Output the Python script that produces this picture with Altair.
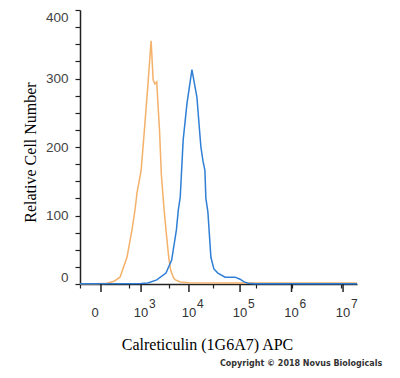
import altair as alt
import pandas as pd

# ---- data ----
orange_x = [-311, -47, 62, 158, 268, 439, 600, 714, 800, 1000, 1194, 1425, 1679, 1858, 2031,
            2220, 2320, 2535, 2770, 3162, 3453, 3945, 4313, 4924, 5380, 6715, 10000, 100000,
            1000000, 10000000, 18660000]
orange_y = [0.5, 0.5, 1, 4, 10, 39, 79, 108, 133, 165, 225, 290, 355, 298, 292,
            295, 270, 225, 160, 108, 79, 38, 20, 9, 6, 3, 2, 1.5,
            1.5, 1.5, 1.5]

blue_x = [-311, 1000, 1425, 2220, 3453, 4510, 5623, 6140, 6715, 7674, 9155, 10000, 11450,
          14350, 17190, 18850, 20600, 21540, 23600, 27000, 30900, 37060, 50800, 66600, 79800,
          100000, 119700, 143400, 200000, 1000000, 10000000, 18660000]
blue_y = [0.5, 0.8, 1.5, 6, 16, 35, 79, 108, 127, 210, 264, 283, 313,
          273, 200, 180, 166, 125, 105, 39, 22, 16, 10, 10, 10,
          7, 3, 1, 0.5, 0.5, 0.5, 0.5]

major_ticks = [0, 1000, 10000, 100000, 1000000, 10000000]
tick_base = ["0", "10", "10", "10", "10", "10"]
tick_exp = ["", "3", "4", "5", "6", "7"]
minor_lin = [-300, -200, -100, 100, 200, 300, 400, 500, 600, 700, 800, 900]
minor_mult = [2, 3, 4, 5, 6, 7, 8, 9]
y_ticks = list(range(0, 401, 25))

x_title = "Calreticulin (1G6A7) APC"
y_title = "Relative Cell Number"
copyright_text = "Copyright \u00a9 2018 Novus Biologicals"

# ---- build tables ----
x_tick_values = sorted(
    minor_lin + major_ticks
    + [m * 10 ** k for k in range(3, 7) for m in minor_mult]
)

df = pd.concat([
    pd.DataFrame({"intensity": orange_x, "count": orange_y, "series": "Isotype"}),
    pd.DataFrame({"intensity": blue_x, "count": blue_y, "series": "Calreticulin"}),
])
lab = pd.DataFrame({"v": major_ticks, "base": tick_base, "exp": tick_exp})
lab_zero = lab[lab["v"] == 0]
lab_pow = lab[lab["v"] != 0]
cp = pd.DataFrame({"t": [copyright_text]})

xscale = alt.Scale(type="symlog", constant=200, domain=[-311, 18660000], nice=False, zero=False)
yscale = alt.Scale(domain=[0, 400], nice=False, zero=False)

lines = alt.Chart(df).mark_line(strokeWidth=1.5, interpolate="linear").encode(
    x=alt.X("intensity:Q", scale=xscale,
            axis=alt.Axis(values=x_tick_values, labels=False, grid=False,
                          ticks=True, tickSize=4, tickWidth=1.2, tickColor="#222",
                          domainColor="#222", domainWidth=1.5,
                          title=x_title, titleFont="Liberation Serif", titleFontSize=16,
                          titleFontWeight="normal", titleColor="black",
                          titleX=127, titleY=65, titleAlign="center",
                          titleBaseline="alphabetic")),
    y=alt.Y("count:Q", scale=yscale,
            axis=alt.Axis(values=y_ticks, grid=False, ticks=True, tickSize=5,
                          tickWidth=1.2, tickColor="#222",
                          labelExpr="datum.value % 100 == 0 ? datum.label : ''",
                          labelFlush=True, labelFont="Liberation Sans", labelFontSize=13.5,
                          labelColor="#444", labelPadding=7,
                          domainColor="#222", domainWidth=1.5,
                          title=y_title, titleFont="Liberation Serif", titleFontSize=16,
                          titleFontWeight="normal", titleColor="black",
                          titleX=-45, titleY=142, titleAlign="center",
                          titleBaseline="alphabetic", titleAngle=-90)),
    color=alt.Color("series:N",
                    scale=alt.Scale(domain=["Isotype", "Calreticulin"],
                                    range=["#f4b16a", "#2f7fd6"]),
                    legend=None),
    order=alt.Order("series:N", sort="descending"),
)

# longer tick marks at the decades
major_rules = alt.Chart(lab).mark_rule(color="#222", strokeWidth=1.5).encode(
    x=alt.X("v:Q", scale=xscale), y=alt.value(274), y2=alt.value(282))

base_txt = alt.Chart(lab_pow).mark_text(font="Liberation Sans", fontSize=13, color="#333",
                                        baseline="middle", align="center").encode(
    x=alt.X("v:Q", scale=xscale), y=alt.value(303), text="base:N")
zero_txt = alt.Chart(lab_zero).mark_text(font="Liberation Sans", fontSize=13, color="#333",
                                         baseline="middle", align="center", dx=-6).encode(
    x=alt.X("v:Q", scale=xscale), y=alt.value(303), text="base:N")
exp_txt = alt.Chart(lab_pow).mark_text(font="Liberation Sans", fontSize=12, color="#333",
                                       baseline="middle", align="left", dx=8).encode(
    x=alt.X("v:Q", scale=xscale), y=alt.value(294), text="exp:N")
cp_txt = alt.Chart(cp).mark_text(font="DejaVu Sans", fontSize=8, fontWeight="bold",
                                 color="#333", align="left", baseline="alphabetic").encode(
    x=alt.value(140), y=alt.value(356), text="t:N")

chart = alt.layer(lines, major_rules, base_txt, zero_txt, exp_txt, cp_txt).properties(
    width=277, height=274,
    autosize=alt.AutoSizeParams(type="none"),
    padding={"left": 80, "top": 10, "right": 43, "bottom": 94},
    background="white",
).configure_view(strokeWidth=0)

chart.save("out.html", embed_options={"renderer": "svg", "actions": False})
